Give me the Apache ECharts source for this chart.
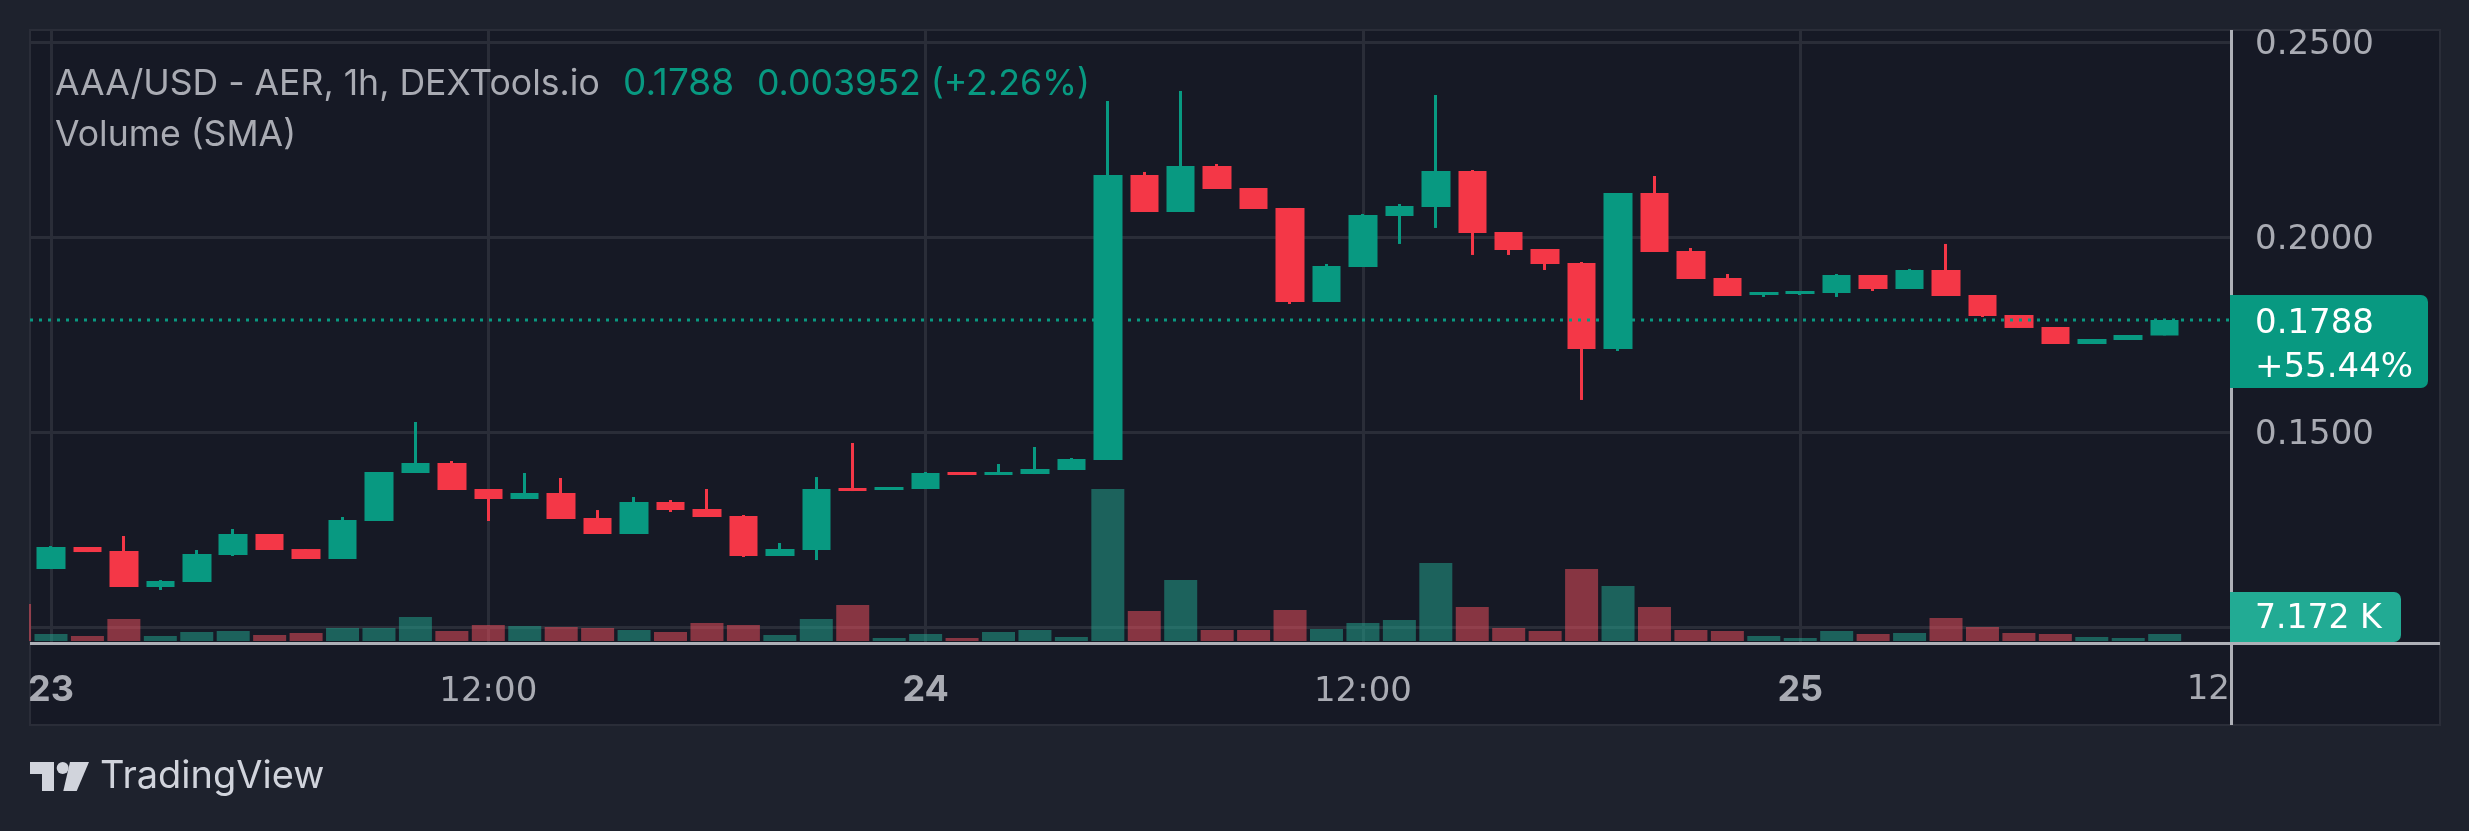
<!DOCTYPE html>
<html>
<head>
<meta charset="utf-8">
<title>AAA/USD</title>
<style>
html, body { margin: 0; padding: 0; background: #1e222d; }
#main { width: 2469px; height: 831px; }
</style>
<script src="https://cdn.jsdelivr.net/npm/echarts@6/dist/echarts.min.js"></script>
</head>
<body>
<div id="main"></div>
<script>
// hours since 23rd 00:00, one candle per hour
var hours = [0,1,2,3,4,5,6,7,8,9,10,11,12,13,14,15,16,17,18,19,20,21,22,23,24,25,26,27,28,29,
    30,31,32,33,34,35,36,37,38,39,40,41,42,43,44,45,46,47,48,49,50,51,52,53,54,55,56,57,58];
var opens = [0.11494,0.12059,0.11956,0.11033,0.11161,0.11853,0.12392,0.12007,0.11751,0.12725,
    0.13956,0.14212,0.13546,0.13289,0.13443,0.12802,0.12392,0.13212,0.13033,0.12853,
    0.11828,0.11982,0.13571,0.13520,0.13546,0.13982,0.13905,0.13930,0.14033,0.14289,
    0.21598,0.20649,0.21829,0.21264,0.20752,0.18341,0.19239,0.20547,0.20777,0.21700,
    0.20136,0.19700,0.19341,0.17136,0.21136,0.19649,0.18957,0.18521,0.18547,0.18572,
    0.19034,0.18675,0.19162,0.18521,0.18008,0.17700,0.17264,0.17367,0.17485];
var closes = [0.12059,0.11930,0.11033,0.11187,0.11879,0.12392,0.11982,0.11751,0.12751,0.13982,
    0.14212,0.13520,0.13289,0.13443,0.12777,0.12392,0.13212,0.13007,0.12828,0.11828,
    0.12007,0.13546,0.13494,0.13597,0.13956,0.13905,0.13982,0.14059,0.14315,0.21598,
    0.20649,0.21829,0.21239,0.20726,0.18341,0.19264,0.20572,0.20803,0.21700,0.20111,
    0.19675,0.19316,0.17136,0.21136,0.19623,0.18931,0.18495,0.18598,0.18623,0.19034,
    0.18675,0.19162,0.18495,0.17982,0.17675,0.17264,0.17393,0.17495,0.17880];
var lows = [0.11494,0.11930,0.11033,0.10956,0.11161,0.11828,0.11982,0.11751,0.11751,0.12725,
    0.13956,0.13520,0.12725,0.13289,0.12777,0.12392,0.12392,0.12956,0.12828,0.11802,
    0.11828,0.11725,0.13494,0.13520,0.13546,0.13905,0.13905,0.13930,0.14033,0.14289,
    0.20649,0.20649,0.21239,0.20726,0.18290,0.18341,0.19239,0.19829,0.20239,0.19547,
    0.19547,0.19162,0.15829,0.17085,0.19623,0.18931,0.18495,0.18470,0.18521,0.18470,
    0.18623,0.18675,0.18495,0.17957,0.17675,0.17264,0.17264,0.17367,0.17485];
var highs = [0.12084,0.12059,0.12341,0.11212,0.11982,0.12520,0.12392,0.12007,0.12828,0.13982,
    0.15264,0.14264,0.13546,0.13956,0.13828,0.13007,0.13341,0.13264,0.13546,0.12879,
    0.12161,0.13853,0.14725,0.13597,0.13982,0.13982,0.14187,0.14623,0.14341,0.23495,
    0.21675,0.23752,0.21880,0.21264,0.20752,0.19316,0.20598,0.20854,0.23649,0.21726,
    0.20136,0.19700,0.19367,0.21136,0.21572,0.19726,0.19059,0.18598,0.18623,0.19059,
    0.19034,0.19188,0.19829,0.18521,0.18008,0.17700,0.17393,0.17495,0.17905];
// volume in K, the bar before the first candle is cut off by the pane
var prevVolume = 37.9;
var volumes = [7.2,5.1,22.6,5.1,9.2,10.3,6.2,8.2,13.3,13.3,
    24.6,10.3,16.4,15.4,14.4,13.3,11.3,9.2,18.5,16.4,
    6.2,22.6,36.9,3.1,7.2,3.1,9.2,11.3,4.1,155.8,
    30.8,62.5,11.3,11.3,31.8,12.3,18.5,21.5,80,34.9,
    13.3,10.3,73.8,56.4,34.9,11.3,10.3,5.1,3.1,10.3,
    7.2,8.2,23.6,14.4,8.2,7.2,4.1,3.1,7.172];
var priceTicks = [0.25, 0.2, 0.15];
var gridPrices = [0.25, 0.2, 0.15, 0.1];
var timeTicks = [0, 12, 24, 36, 48];
var tickLabels = ['23', '12:00', '24', '12:00', '25', '12'];
var lastPrice = 0.1788;
var titleText = 'AAA/USD - AER, 1h, DEXTools.io';
var legendValues = ['0.1788', '0.003952 (+2.26%)'];

var upColor = '#089981';
var downColor = '#f43747';
var fontName = 'Inter';
var numFont = '"DejaVu Sans"';
var textGrey = '#a9abb3';
var bgColor = '#1e222d';

var candleData = [];
var volumeData = [];
for (var i = 0; i < hours.length; i++) {
    candleData.push([hours[i], opens[i], closes[i], lows[i], highs[i]]);
    volumeData.push({
        value: [hours[i], volumes[i]],
        itemStyle: { color: closes[i] >= opens[i] ? 'rgba(34,171,148,0.5)' : 'rgba(247,82,95,0.5)' }
    });
}
volumeData.unshift({ value: [hours[0] - 1, prevVolume], itemStyle: { color: 'rgba(247,82,95,0.5)' } });

var xMin = -0.576, xMax = 59.82;
var timeAxisBase = { type: 'value', min: xMin, max: xMax, axisLine: { show: false }, axisTick: { show: false } };

var myChart = echarts.init(document.getElementById('main'), null, { renderer: 'canvas' });

var option = {
    animation: false,
    backgroundColor: bgColor,
    textStyle: { fontFamily: fontName },
    grid: [
        { left: 30, top: 30, width: 2201, height: 613.3 },
        { left: 30, top: 441, width: 2201, height: 200 }
    ],
    xAxis: [
        Object.assign({}, timeAxisBase, {
            gridIndex: 0,
            axisTick: { show: false, customValues: timeTicks },
            axisLabel: {
                customValues: timeTicks,
                showMinLabel: true,
                margin: 25,
                color: textGrey,
                formatter: function (v) {
                    return (v % 24 == 0 ? '{b|' : '{n|') + tickLabels[timeTicks.indexOf(v)] + '}';
                },
                rich: {
                    b: { fontFamily: fontName, fontSize: 36, fontWeight: 'bold', color: textGrey, lineHeight: 44 },
                    n: { fontFamily: numFont, fontSize: 34, color: textGrey, lineHeight: 47 }
                }
            },
            splitLine: { show: true, lineStyle: { color: '#2a2d38', width: 3 } }
        }),
        Object.assign({}, timeAxisBase, {
            gridIndex: 1,
            axisLabel: { show: false },
            splitLine: { show: false }
        })
    ],
    yAxis: [
        {
            type: 'value',
            gridIndex: 0,
            position: 'right',
            min: 0.0959,
            max: 0.25315,
            axisLine: { show: false },
            axisTick: { show: false, customValues: gridPrices },
            axisLabel: {
                customValues: priceTicks,
                margin: 24,
                color: textGrey,
                formatter: function (v) { return '{p|' + v.toFixed(4) + '}'; },
                rich: { p: { fontFamily: numFont, fontSize: 34, color: textGrey, padding: [6, 0, 0, 0] } }
            },
            splitLine: { show: true, lineStyle: { color: '#2a2d38', width: 3 } }
        },
        {
            type: 'value',
            gridIndex: 1,
            min: 0,
            max: 205,
            axisLine: { show: false },
            axisTick: { show: false },
            axisLabel: { show: false },
            splitLine: { show: false }
        }
    ],
    series: [
        {
            name: 'Volume',
            type: 'bar',
            xAxisIndex: 1,
            yAxisIndex: 1,
            barWidth: 33,
            data: volumeData,
            z: 1
        },
        {
            // only the wicks, the bodies come from the next series
            name: 'wick',
            type: 'candlestick',
            barWidth: 1,
            data: candleData,
            itemStyle: { color: upColor, color0: downColor, borderColor: upColor, borderColor0: downColor, borderWidth: 3 },
            z: 2
        },
        {
            name: 'AAA/USD',
            type: 'candlestick',
            barWidth: 29,
            data: candleData,
            itemStyle: { color: upColor, color0: downColor, borderColor: upColor, borderColor0: downColor, borderWidth: 0 },
            z: 3
        },
        {
            // last price, dotted across the pane
            name: 'Last',
            type: 'line',
            symbol: 'none',
            silent: true,
            data: [[xMin, lastPrice], [xMax, lastPrice]],
            lineStyle: { color: upColor, type: [3, 6], width: 3 },
            z: 4
        }
    ],
    graphic: [
        // pane behind everything
        { type: 'rect', z: -1, silent: true, shape: { x: 30, y: 30, width: 2410, height: 695 },
            style: { fill: '#161925', stroke: '#2a2d38', lineWidth: 2 } },
        // bar clip is wider than the grid on a value axis, hide what sticks out on the left
        { type: 'rect', z: 5, silent: true, shape: { x: 0, y: 560, width: 29, height: 90 }, style: { fill: bgColor } },
        // axis borders
        { type: 'rect', z: 5, silent: true, shape: { x: 30, y: 642, width: 2410, height: 3 }, style: { fill: '#aeb0b7' } },
        { type: 'rect', z: 5, silent: true, shape: { x: 2230, y: 30, width: 3, height: 695 }, style: { fill: '#aeb0b7' } },
        // last price tag
        { type: 'rect', z: 6, silent: true, shape: { x: 2230, y: 295, width: 198, height: 93, r: [0, 7, 7, 0] }, style: { fill: upColor } },
        { type: 'text', z: 7, silent: true, x: 2255, y: 324, style: { text: lastPrice.toFixed(4), fill: '#fff', font: '34px ' + numFont, textVerticalAlign: 'middle' } },
        { type: 'text', z: 7, silent: true, x: 2255, y: 368, style: { text: '+55.44%', fill: '#fff', font: '34px ' + numFont, textVerticalAlign: 'middle' } },
        // volume tag
        { type: 'rect', z: 6, silent: true, shape: { x: 2230, y: 592, width: 171, height: 50, r: [0, 7, 7, 0] }, style: { fill: '#22ab94' } },
        { type: 'text', z: 7, silent: true, x: 2255, y: 619, style: { text: '7.172 K', fill: '#fff', font: '33px ' + numFont, textVerticalAlign: 'middle' } },
        // clipped last time label
        { type: 'text', z: 4, silent: true, x: 2230, y: 690, style: { text: tickLabels[5], fill: textGrey, font: '34px ' + numFont, textAlign: 'right', textVerticalAlign: 'middle' } },
        // legend
        { type: 'text', z: 7, silent: true, x: 55, y: 84, style: { text: titleText, fill: textGrey, font: '35.6px ' + fontName, textVerticalAlign: 'middle' } },
        { type: 'text', z: 7, silent: true, x: 623, y: 84, style: { text: legendValues[0], fill: upColor, font: '37px ' + fontName, textVerticalAlign: 'middle' } },
        { type: 'text', z: 7, silent: true, x: 757, y: 84, style: { text: legendValues[1], fill: upColor, font: '35.7px ' + fontName, textVerticalAlign: 'middle' } },
        { type: 'text', z: 7, silent: true, x: 55, y: 135, style: { text: 'Volume (SMA)', fill: textGrey, font: '35.6px ' + fontName, textVerticalAlign: 'middle' } },
        // TradingView mark
        { type: 'polygon', silent: true, shape: { points: [[30, 762], [54, 762], [54, 791], [42, 791], [42, 774], [30, 774]] }, style: { fill: '#d1d4dc' } },
        { type: 'circle', silent: true, shape: { cx: 62.7, cy: 768, r: 6 }, style: { fill: '#d1d4dc' } },
        { type: 'polygon', silent: true, shape: { points: [[70, 762], [89, 762], [76.7, 791], [63.3, 791]] }, style: { fill: '#d1d4dc' } },
        { type: 'text', silent: true, x: 100, y: 777, style: { text: 'TradingView', fill: '#d1d4dc', font: '38px ' + fontName, textVerticalAlign: 'middle' } }
    ]
};

myChart.setOption(option);
</script>
</body>
</html>
